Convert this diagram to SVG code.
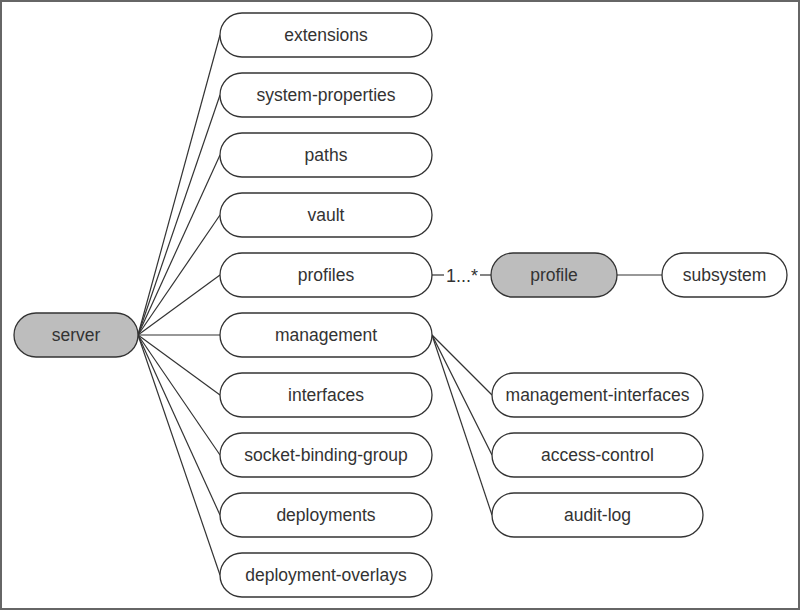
<svg xmlns="http://www.w3.org/2000/svg" width="800" height="610" viewBox="0 0 800 610">
<style>
.n rect{fill:#fff;stroke:#333;stroke-width:1.3}
.n.g rect{fill:#bdbdbd}
text{font-family:"Liberation Sans",Arial,sans-serif;font-size:17.5px;fill:#333;text-anchor:middle;dominant-baseline:central}
#connectors line{stroke:#333;stroke-width:1.2}
</style>
<rect x="1" y="1" width="798" height="608" fill="#fff" stroke="#666" stroke-width="2"/>
<g id="connectors">
<line x1="138" y1="335" x2="220" y2="35"/>
<line x1="138" y1="335" x2="220" y2="95"/>
<line x1="138" y1="335" x2="220" y2="155"/>
<line x1="138" y1="335" x2="220" y2="215"/>
<line x1="138" y1="335" x2="220" y2="275"/>
<line x1="138" y1="335" x2="220" y2="335"/>
<line x1="138" y1="335" x2="220" y2="395"/>
<line x1="138" y1="335" x2="220" y2="455"/>
<line x1="138" y1="335" x2="220" y2="515"/>
<line x1="138" y1="335" x2="220" y2="575"/>
<line x1="432" y1="335" x2="492" y2="395"/>
<line x1="432" y1="335" x2="492" y2="455"/>
<line x1="432" y1="335" x2="492" y2="515"/>
<line x1="432" y1="275" x2="444" y2="275"/>
<line x1="480" y1="275" x2="491" y2="275"/>
<line x1="617" y1="275" x2="662" y2="275"/>
<text x="462" y="276" style="font-size:18px">1...*</text>
</g>
<g id="server" class="n g"><rect x="14" y="313" width="124" height="44" rx="22"/><text x="76" y="335">server</text></g>
<g id="extensions" class="n"><rect x="220" y="13" width="212" height="44" rx="22"/><text x="326" y="35">extensions</text></g>
<g id="system-properties" class="n"><rect x="220" y="73" width="212" height="44" rx="22"/><text x="326" y="95">system-properties</text></g>
<g id="paths" class="n"><rect x="220" y="133" width="212" height="44" rx="22"/><text x="326" y="155">paths</text></g>
<g id="vault" class="n"><rect x="220" y="193" width="212" height="44" rx="22"/><text x="326" y="215">vault</text></g>
<g id="profiles" class="n"><rect x="220" y="253" width="212" height="44" rx="22"/><text x="326" y="275">profiles</text></g>
<g id="management" class="n"><rect x="220" y="313" width="212" height="44" rx="22"/><text x="326" y="335">management</text></g>
<g id="interfaces" class="n"><rect x="220" y="373" width="212" height="44" rx="22"/><text x="326" y="395">interfaces</text></g>
<g id="socket-binding-group" class="n"><rect x="220" y="433" width="212" height="44" rx="22"/><text x="326" y="455">socket-binding-group</text></g>
<g id="deployments" class="n"><rect x="220" y="493" width="212" height="44" rx="22"/><text x="326" y="515">deployments</text></g>
<g id="deployment-overlays" class="n"><rect x="220" y="553" width="212" height="44" rx="22"/><text x="326" y="575">deployment-overlays</text></g>
<g id="profile" class="n g"><rect x="491" y="253" width="126" height="44" rx="22"/><text x="554" y="275">profile</text></g>
<g id="subsystem" class="n"><rect x="662" y="253" width="125" height="44" rx="22"/><text x="724.5" y="275">subsystem</text></g>
<g id="management-interfaces" class="n"><rect x="492" y="373" width="211" height="44" rx="22"/><text x="597.5" y="395">management-interfaces</text></g>
<g id="access-control" class="n"><rect x="492" y="433" width="211" height="44" rx="22"/><text x="597.5" y="455">access-control</text></g>
<g id="audit-log" class="n"><rect x="492" y="493" width="211" height="44" rx="22"/><text x="597.5" y="515">audit-log</text></g>
</svg>
